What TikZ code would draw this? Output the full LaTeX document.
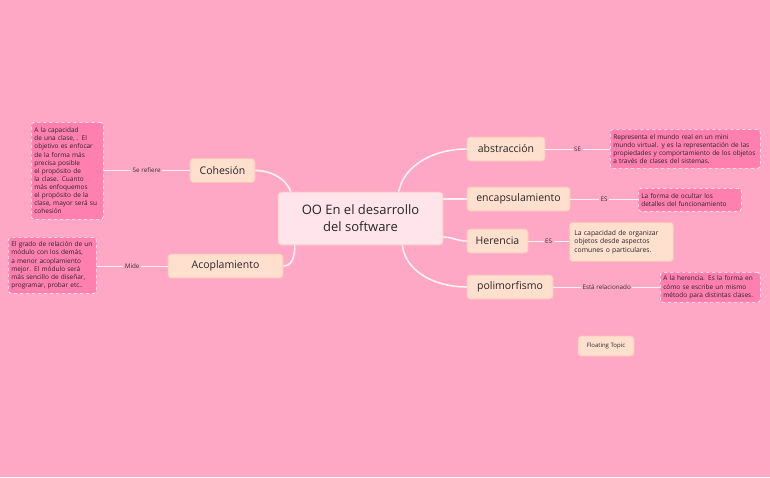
\documentclass[tikz,border=0pt]{standalone}
\usepackage{fontspec}
\setmainfont{Open Sans}
\begin{document}
\begin{tikzpicture}[x=1pt,y=-1pt,
 topic/.style={draw=white!60!orange!30!pink,fill=topicfill,rounded corners=3pt,line width=0.8pt,font=\fontsize{10.5}{12}\selectfont,minimum height=24pt,inner xsep=6pt,text=black!85},
 detail/.style={draw=white,dashed,fill=detfill,rounded corners=3pt,line width=0.7pt,font=\fontsize{6.5}{8.1}\selectfont,align=left,inner sep=3pt,text=black!85,anchor=north west},
 conn/.style={draw=white!80!pink,line width=1.6pt},
 lab/.style={font=\fontsize{6.3}{7}\selectfont,fill=bg,inner sep=1.5pt,text=black!80}]
\definecolor{bg}{HTML}{FFA8C6}
\definecolor{topicfill}{HTML}{FFE0CF}
\definecolor{detfill}{HTML}{FF80AE}
\definecolor{cenfill}{HTML}{FFE4EC}
\hyphenpenalty=10000 \exhyphenpenalty=10000
\fill[bg] (0,0) rectangle (770,477);
\useasboundingbox (0,0) rectangle (770,477);
\node[topic,minimum width=65pt] (coh) at (222.5,170.5) {Cohesión};
\node[topic,minimum width=115pt] (aco) at (225.5,266) {Acoplamiento};
\node[topic,minimum width=78pt] (abs) at (506,149) {abstracción};
\node[topic,minimum width=103pt] (enc) at (518.5,199) {encapsulamiento};
\node[topic,minimum width=61pt] (her) at (497.5,241) {Herencia};
\node[topic,minimum width=86pt] (pol) at (510,287) {polimorfismo};
\node[topic,minimum width=56pt,minimum height=20pt,font=\fontsize{6}{7}\selectfont] (ft) at (606,346) {Floating Topic};
\node[detail,text width=66pt,minimum height=97pt] (d1) at (31,122) {A la capacidad de una clase, . El objetivo es enfocar de la forma más precisa posible el propósito de la clase. Cuanto más enfoquemos el propósito de la clase, mayor será su cohesión};
\node[detail,text width=82pt,minimum height=56pt] (d2) at (8,237) {El grado de relación de un módulo con los demás, a menor acoplamiento mejor. El módulo será más sencillo de diseñar, programar, probar etc..};
\node[detail,text width=144pt,minimum height=39pt] (d3) at (610,129) {Representa el mundo real en un mini mundo virtual. y es la representación de las propiedades y comportamiento de los objetos a través de clases del sistemas.};
\node[detail,text width=97pt,minimum height=23pt] (d4) at (638,188) {La forma de ocultar los detalles del funcionamiento};
\node[topic,anchor=north west,text width=94pt,minimum height=39pt,align=left,inner xsep=5pt,font=\fontsize{6.8}{8.6}\selectfont] (d5) at (569,222) {La capacidad de organizar objetos desde aspectos comunes o particulares.};
\node[detail,text width=94pt,minimum height=30pt] (d6) at (660,272) {A la herencia. Es la forma en cómo se escribe un mismo método para distintas clases.};
\draw[conn] (coh.east) to[out=0,in=90] (292,200);
\draw[conn] (aco.east) to[out=0,in=-90] (295,238);
\draw[conn] (398,200) to[out=90,in=180] (abs.west);
\draw[conn] (428,199) to[out=0,in=180] (enc.west);
\draw[conn] (443,237) to[out=0,in=180] (her.west);
\draw[conn] (402,240) to[out=-90,in=180] (pol.west);
\draw[conn,line width=1pt] (coh.west) -- node[lab]{Se refiere} (d1.east|-coh.west);
\draw[conn,line width=1pt] (aco.west) -- node[lab]{Mide} (d2.east|-aco.west);
\draw[conn,line width=1pt] (abs.east) -- node[lab]{SE} (d3.west|-abs.east);
\draw[conn,line width=1pt] (enc.east) -- node[lab]{ES} (d4.west|-enc.east);
\draw[conn,line width=1pt] (her.east) -- node[lab]{ES} (d5.west|-her.east);
\draw[conn,line width=1pt] (pol.east) -- node[lab]{Está relacionado} (d6.west|-pol.east);
\node[topic,fill=cenfill,minimum width=165pt,minimum height=53pt,align=center,font=\fontsize{13}{17}\selectfont] (c) at (360.5,218.5) {OO En el desarrollo\\del software};
\end{tikzpicture}
\end{document}
